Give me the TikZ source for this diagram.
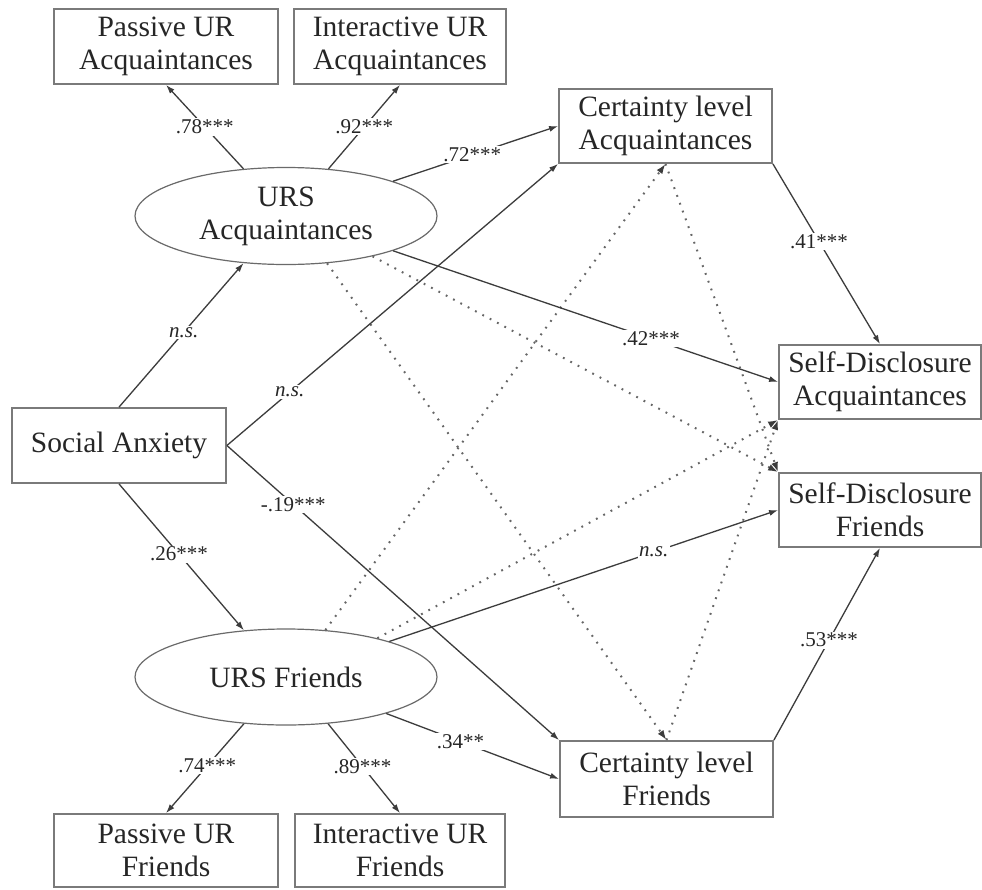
\documentclass[tikz,border=0pt]{standalone}
\usepackage{fontspec}
\setmainfont{Liberation Serif}
\usetikzlibrary{shapes.geometric,arrows.meta}
\definecolor{boxgray}{HTML}{7A7A7A}
\definecolor{ellgray}{HTML}{6A6A6A}
\definecolor{linegray}{HTML}{3C3C3C}
\definecolor{dotgray}{HTML}{666666}
\definecolor{txt}{HTML}{262626}
\begin{document}
\begin{tikzpicture}[x=1pt,y=-1pt,
  box/.style={draw=boxgray,line width=1.8pt,rectangle,inner sep=0pt,align=center,
    font=\fontsize{29.5}{33}\selectfont,text=txt},
  lat/.style={draw=ellgray,line width=1.2pt,ellipse,inner sep=0pt,minimum width=302pt,
    minimum height=97pt,align=center,font=\fontsize{29.5}{33}\selectfont,text=txt},
  conn/.style={draw=linegray,line width=1.3pt,-{Latex[length=9pt,width=6pt]}},
  dotconn/.style={draw=dotgray,line width=2pt,dash pattern=on 1.8pt off 6.5pt,
    -{Latex[length=10pt,width=7pt,color=linegray]}},
  lbl/.style={fill=white,inner sep=1.5pt,font=\fontsize{21}{24}\selectfont,text=txt},
]
\fill[white] (0,0) rectangle (982,889);
\useasboundingbox (0,0) rectangle (982,889);

% nodes
\node[box,minimum width=224pt,minimum height=75pt] (pa) at (166,46.5) {Passive UR\\Acquaintances};
\node[box,minimum width=212pt,minimum height=75pt] (ia) at (400,46.5) {Interactive UR\\Acquaintances};
\node[box,minimum width=213pt,minimum height=74pt] (ca) at (665.5,126) {Certainty level\\Acquaintances};
\node[box,minimum width=202pt,minimum height=74pt] (sda) at (880,382) {Self-Disclosure\\Acquaintances};
\node[box,minimum width=202pt,minimum height=74pt] (sdf) at (880,510) {Self-Disclosure\\Friends};
\node[box,minimum width=213pt,minimum height=76pt] (cf) at (666.5,779) {Certainty level\\Friends};
\node[box,minimum width=214pt,minimum height=75pt] (sa) at (119,445.5) {Social Anxiety};
\node[box,minimum width=224pt,minimum height=73pt] (pf) at (166,850.5) {Passive UR\\Friends};
\node[box,minimum width=210pt,minimum height=73pt] (if) at (400,850.5) {Interactive UR\\Friends};
\node[lat] (ua) at (286,216) {URS\\Acquaintances};
\node[lat,minimum height=96pt] (uf) at (286,677) {URS Friends};

% dotted (non-significant) paths
\draw[dotconn] (uf.50) -- (ca.south);
\draw[dotconn] (uf.23) -- (sda.south west);
\draw[dotconn] (ua.311) -- (cf.north);
\draw[dotconn] (ua.335) -- (sdf.north west);
\draw[dotconn] (ca.south) -- (sdf.north west);
\draw[dotconn] (cf.north) -- (sda.south west);

% solid paths
\draw[conn] (ua.132) -- node[lbl,pos=.5]{.78***} (pa.south);
\draw[conn] (ua.48) -- node[lbl,pos=.5]{.92***} (ia.south);
\draw[conn] (ua.18) -- node[lbl,pos=.48]{.72***} (ca.west);
\draw[conn] (sa.north) -- node[lbl,pos=.52]{\textit{n.s.}} (ua.228);
\draw[conn] (sa.east) -- node[lbl,pos=.19]{\textit{n.s.}} (ca.south west);
\draw[conn] (sa.south) -- node[lbl,pos=.48]{.26***} (uf.132);
\draw[conn] (sa.east) -- node[lbl,pos=.2]{-.19***} (cf.north west);
\draw[conn] (ua.342) -- node[lbl,pos=.67]{.42***} (sda.west);
\draw[conn] (uf.19) -- node[lbl,pos=.68]{\textit{n.s.}} (sdf.west);
\draw[conn] (uf.340) -- node[lbl,pos=.43]{.34**} (cf.west);
\draw[conn] (uf.228) -- node[lbl,pos=.47]{.74***} (pf.north);
\draw[conn] (uf.312) -- node[lbl,pos=.48]{.89***} (if.north);
\draw[conn] (ca.south east) -- node[lbl,pos=.43]{.41***} (sda.north);
\draw[conn] (cf.north east) -- node[lbl,pos=.52]{.53***} (sdf.south);
\end{tikzpicture}
\end{document}
